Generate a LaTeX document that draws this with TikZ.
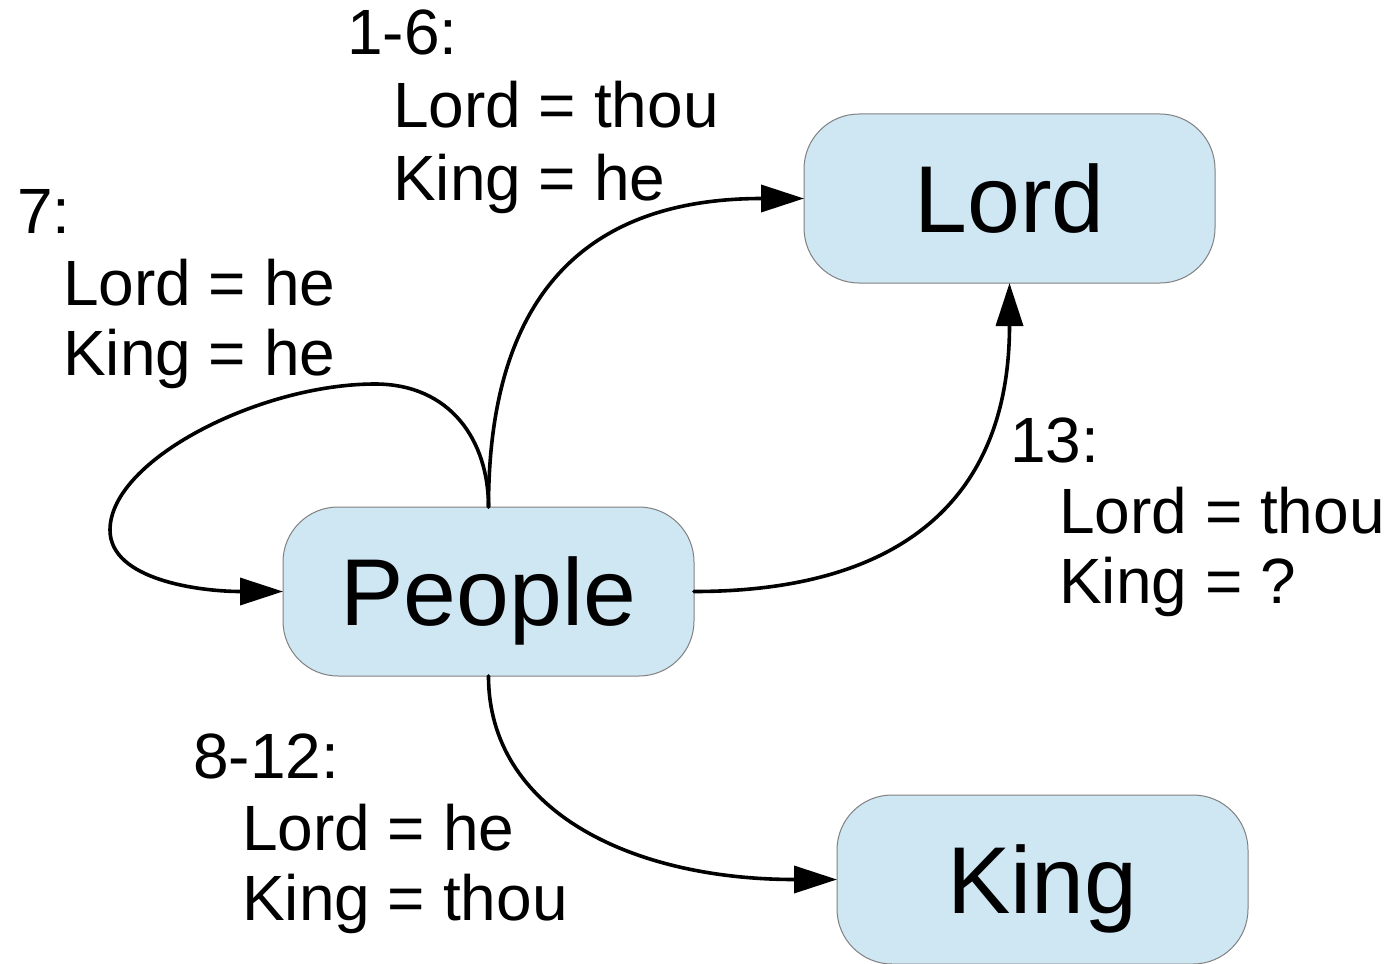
\documentclass[tikz,border=0pt]{standalone}
\usepackage{fontspec}
\setmainfont{Liberation Sans}
\usetikzlibrary{arrows.meta}
\definecolor{boxblauw}{RGB}{207,230,243}
\definecolor{boxrand}{RGB}{128,128,128}

\begin{document}
\begin{tikzpicture}[x=1pt, y=-1pt, line cap=round,
  box/.style={draw=boxrand, line width=1pt, fill=boxblauw, rounded corners=55pt,
    minimum width=411pt, minimum height=169pt, inner sep=0pt, outer sep=0pt,
    font=\fontsize{95}{110}\selectfont, text height=68pt, text depth=0pt},
  lbl/.style={anchor=base west, inner sep=0pt, font=\fontsize{64}{72}\selectfont},
  pijl/.style={line width=3.6pt, -{Triangle[length=43pt,width=27pt]}}]
  \useasboundingbox (0,0) rectangle (1388,963);

  % knopen
  \node[box] (lord)   at (1009.5,198.5) {Lord};
  \node[box] (people) at (488.5,591.5)  {People};
  \node[box] (king)   at (1042.5,879.5) {King};

  % hulppunten lus
  \coordinate (lusboven) at (375,384);
  \coordinate (luslinks) at (110,530);

  % pijlen
  \draw[pijl] (people.north) .. controls +(0,-227) and +(-204,0) .. (lord.west);
  \draw[pijl] (people.east) .. controls +(206,0) and +(0,217) .. (lord.south);
  \draw[pijl] (people.south) .. controls +(0,134) and +(-207,0) .. (king.west);
  \draw[pijl] (people.north) .. controls +(0,-67) and +(75,0) .. (lusboven)
    .. controls +(-115,0) and +(0,-70) .. (luslinks)
    .. controls +(0,50) and +(-83,0) .. (people.west);

  % labels
  \node[lbl] (r16)   at (347,55)   {1-6:};
  \node[lbl] (r16l)  at (393,128)  {Lord = thou};
  \node[lbl] (r16k)  at (393,200)  {King = he};

  \node[lbl] (r7)    at (17,233)   {7:};
  \node[lbl] (r7l)   at (63,305)   {Lord = he};
  \node[lbl] (r7k)   at (63,375)   {King = he};

  \node[lbl] (r13)   at (1010,462) {13:};
  \node[lbl] (r13l)  at (1059,533) {Lord = thou};
  \node[lbl] (r13k)  at (1059,603) {King = ?};

  \node[lbl] (r812)  at (193,778)  {8-12:};
  \node[lbl] (r812l) at (242,850)  {Lord = he};
  \node[lbl] (r812k) at (242,920)  {King = thou};
\end{tikzpicture}
\end{document}
